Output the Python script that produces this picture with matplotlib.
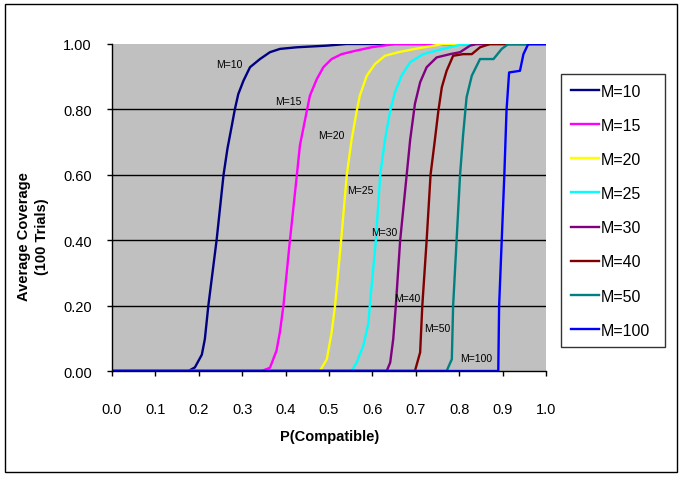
import matplotlib
matplotlib.use("Agg")
import matplotlib.pyplot as plt
from matplotlib.patches import Rectangle

plt.rcParams["font.family"] = ["Liberation Sans", "DejaVu Sans"]

# data (P(Compatible) vs average coverage)
labels = ["M=10", "M=15", "M=20", "M=25", "M=30", "M=40", "M=50", "M=100"]
colors = ["#000080", "#FF00FF", "#FFFF00", "#00FFFF", "#800080", "#800000", "#008080", "#0000FF"]

x10 = [0.0, 0.176, 0.191, 0.207, 0.214, 0.222, 0.241, 0.257, 0.266, 0.276, 0.283, 0.291, 0.303, 0.318, 0.341, 0.364, 0.387, 0.426, 0.495, 0.54, 1.0]
y10 = [0.0, 0.0, 0.011, 0.05, 0.098, 0.20, 0.40, 0.60, 0.68, 0.75, 0.80, 0.847, 0.888, 0.929, 0.954, 0.975, 0.985, 0.99, 0.995, 1.0, 1.0]

x15 = [0.0, 0.345, 0.364, 0.379, 0.387, 0.395, 0.410, 0.426, 0.433, 0.449, 0.456, 0.472, 0.487, 0.506, 0.529, 0.560, 0.598, 0.652, 1.0]
y15 = [0.0, 0.0, 0.01, 0.062, 0.12, 0.20, 0.40, 0.60, 0.69, 0.796, 0.842, 0.893, 0.929, 0.954, 0.969, 0.979, 0.99, 1.0, 1.0]

x20 = [0.0, 0.479, 0.495, 0.506, 0.514, 0.528, 0.541, 0.552, 0.564, 0.571, 0.587, 0.606, 0.629, 0.660, 0.698, 0.763, 1.0]
y20 = [0.0, 0.0, 0.036, 0.118, 0.20, 0.40, 0.60, 0.707, 0.796, 0.842, 0.903, 0.939, 0.964, 0.975, 0.985, 1.0, 1.0]

x25 = [0.0, 0.552, 0.564, 0.579, 0.591, 0.594, 0.608, 0.618, 0.629, 0.641, 0.652, 0.667, 0.687, 0.717, 0.763, 0.81, 1.0]
y25 = [0.0, 0.0, 0.027, 0.077, 0.148, 0.20, 0.40, 0.60, 0.707, 0.796, 0.852, 0.903, 0.944, 0.969, 0.985, 1.0, 1.0]

x30 = [0.0, 0.633, 0.641, 0.648, 0.654, 0.664, 0.679, 0.687, 0.698, 0.710, 0.725, 0.748, 0.779, 0.802, 0.825, 0.84, 1.0]
y30 = [0.0, 0.0, 0.026, 0.098, 0.20, 0.40, 0.60, 0.707, 0.817, 0.883, 0.929, 0.959, 0.969, 0.975, 0.995, 1.0, 1.0]

x40 = [0.0, 0.698, 0.710, 0.715, 0.725, 0.734, 0.744, 0.752, 0.760, 0.771, 0.786, 0.809, 0.829, 0.848, 0.871, 1.0]
y40 = [0.0, 0.0, 0.057, 0.20, 0.40, 0.60, 0.707, 0.796, 0.868, 0.918, 0.964, 0.969, 0.969, 0.99, 1.0, 1.0]

x50 = [0.0, 0.771, 0.783, 0.786, 0.794, 0.802, 0.809, 0.817, 0.829, 0.848, 0.879, 0.898, 0.913, 1.0]
y50 = [0.0, 0.0, 0.036, 0.20, 0.40, 0.60, 0.722, 0.837, 0.903, 0.954, 0.954, 0.985, 1.0, 1.0]

x100 = [0.0, 0.890, 0.892, 0.898, 0.904, 0.909, 0.915, 0.940, 0.948, 0.959, 1.0]
y100 = [0.0, 0.0, 0.20, 0.40, 0.60, 0.796, 0.913, 0.918, 0.969, 1.0, 1.0]

series_x = [x10, x15, x20, x25, x30, x40, x50, x100]
series_y = [y10, y15, y20, y25, y30, y40, y50, y100]

# in-plot curve labels (left edge x, centre y)
label_x = [0.241, 0.376, 0.475, 0.541, 0.596, 0.650, 0.719, 0.802]
label_y = [0.939, 0.827, 0.722, 0.552, 0.426, 0.223, 0.131, 0.040]

x_ticks = [i / 10 for i in range(11)]
y_ticks = [0.0, 0.2, 0.4, 0.6, 0.8, 1.0]
grid_levels = [0.2, 0.4, 0.6, 0.8]


def main() -> None:
    W, H = 682, 485
    fig = plt.figure(figsize=(W / 100, H / 100), dpi=100)
    fig.patch.set_facecolor("white")
    ax = fig.add_axes([112 / W, 1 - 372 / H, (546 - 112) / W, (372 - 45) / H])
    ax.set_facecolor("#C0C0C0")

    for lvl in grid_levels:
        ax.axhline(lvl, color="black", lw=1.0, zorder=1)

    handles = []
    for xs, ys, c, lab in zip(series_x, series_y, colors, labels):
        (ln,) = ax.plot(xs, ys, color=c, lw=1.7, label=lab, zorder=2, solid_joinstyle="round")
        handles.append(ln)

    for lab, lx, ly in zip(labels, label_x, label_y):
        ax.text(lx, ly, lab, fontsize=7.5, ha="left", va="center", zorder=3)

    ax.set_xlim(0, 1)
    ax.set_ylim(0, 1)
    ax.set_xticks(x_ticks)
    ax.set_xticklabels([f"{t:.1f}" for t in x_ticks])
    ax.set_yticks(y_ticks)
    ax.set_yticklabels([f"{t:.2f}" for t in y_ticks])
    ax.tick_params(direction="out", length=3.6, width=1, colors="black", labelsize=10.5)
    ax.tick_params(axis="x", pad=19)
    ax.tick_params(axis="y", pad=11)
    for s in ["top", "right"]:
        ax.spines[s].set_visible(False)
    for s in ["left", "bottom"]:
        ax.spines[s].set_color("black")
        ax.spines[s].set_linewidth(1)

    fig.text(330 / W, 1 - 437 / H, "P(Compatible)", fontsize=10.5, fontweight="bold",
             ha="center", va="center")
    fig.text(33 / W, 1 - 237 / H, "Average Coverage\n(100 Trials)", fontsize=10.5,
             fontweight="bold", ha="center", va="center", rotation=90, linespacing=1.3)

    leg = fig.legend(handles=handles, loc="upper left",
                     bbox_to_anchor=(561 / W, 1 - 344 / H, (665 - 561) / W, (344 - 75) / H),
                     mode="expand", fontsize=11.5, frameon=True, fancybox=False,
                     edgecolor="black", handlelength=1.75, handletextpad=0.15,
                     labelspacing=1.2, borderaxespad=0, borderpad=0.6)
    leg.get_frame().set_linewidth(1)

    fig.patches.append(Rectangle((5 / W, 1 - 473 / H), (677 - 5) / W, (473 - 5) / H,
                                 transform=fig.transFigure, fill=False,
                                 edgecolor="black", lw=1))

    fig.savefig("out.png", dpi=100)
    plt.close(fig)


if __name__ == "__main__":
    main()
